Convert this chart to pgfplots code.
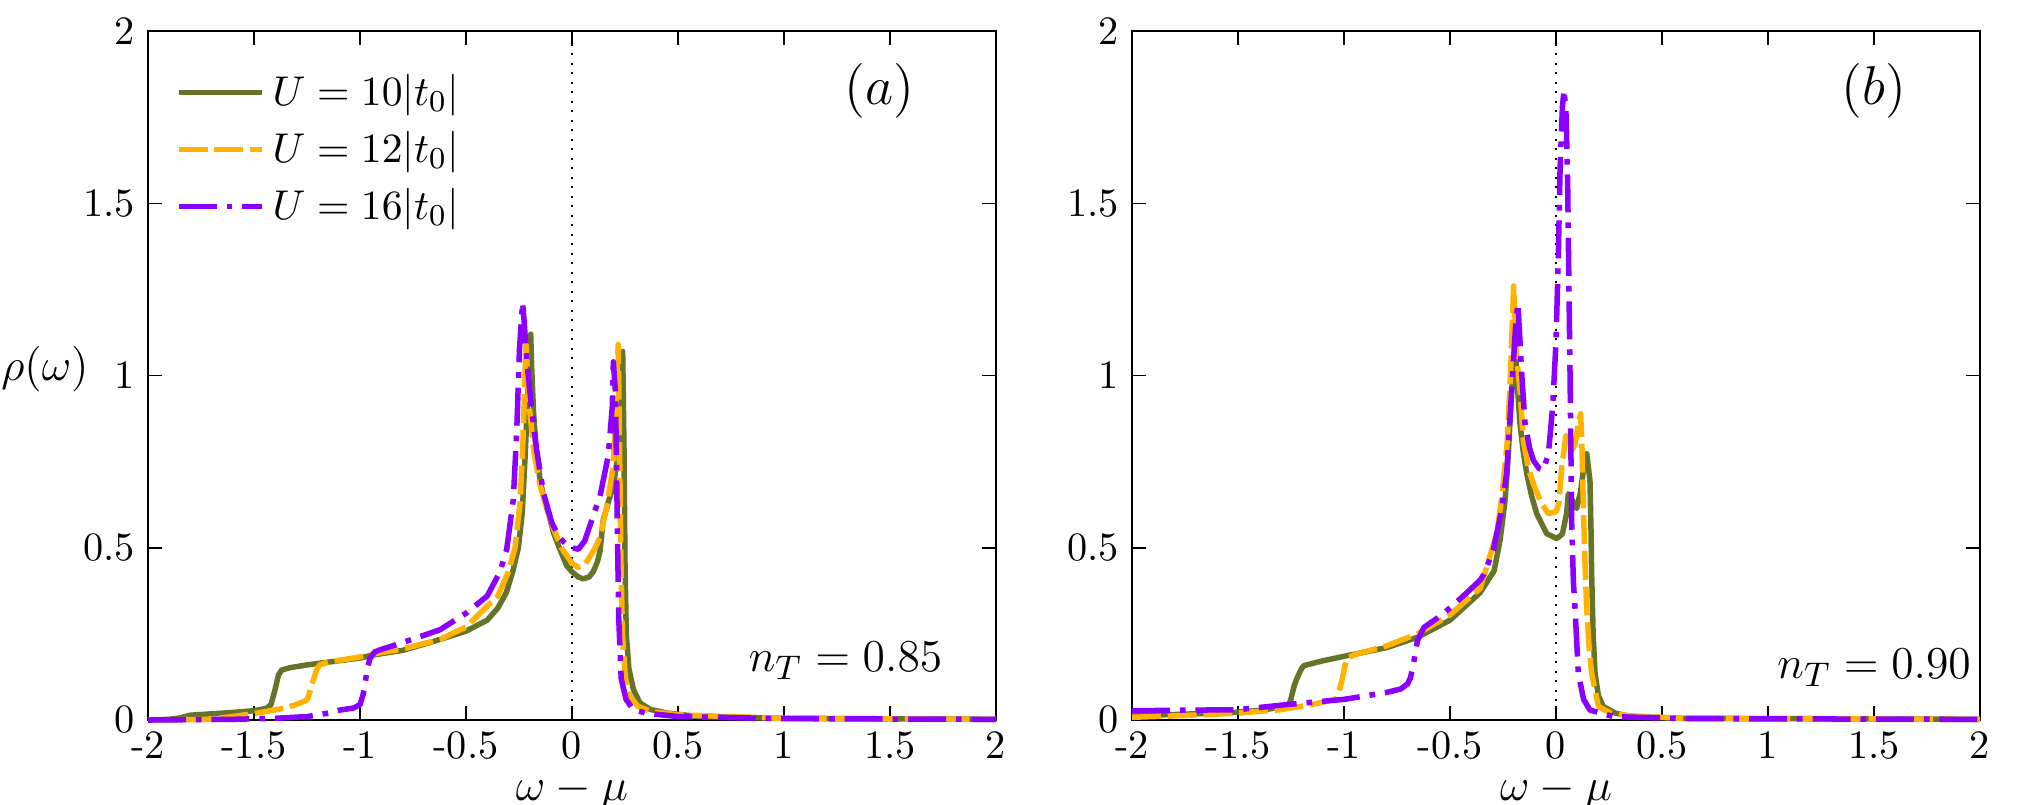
\documentclass[border=0pt]{standalone}
\usepackage{pgfplots}
\pgfplotsset{compat=1.18}
\definecolor{cgreen}{RGB}{102,116,42}
\definecolor{corange}{RGB}{255,178,0}
\definecolor{cpurple}{RGB}{140,0,255}
\pgfplotsset{
  panel/.style={
    scale only axis, width=223.16pt, height=181.3pt,
    xmin=-2, xmax=2, ymin=0, ymax=2,
    xtick={-2,-1.5,-1,-0.5,0,0.5,1,1.5,2},
    xticklabels={-2,-1.5,-1,-0.5,0,0.5,1,1.5,2},
    ytick={0,0.5,1,1.5,2},
    yticklabels={0,0.5,1,1.5,2},
    tick pos=both, tick align=inside,
    major tick length=3.7pt,
    every tick/.style={black, line width=0.4pt},
    axis line style={line width=0.6pt},
    tick label style={font=\fontsize{10.6}{12}\selectfont},
    xticklabel style={inner sep=0.5pt, yshift=-2.4pt},
    label style={font=\fontsize{13}{15}\selectfont},
    xlabel={$\omega-\mu$},
    xlabel style={at={(axis description cs:0.5,-0.104)}, anchor=center, inner sep=0pt},
    clip=false,
  },
  gline/.style={cgreen, line width=1.45pt, solid, line join=round},
  oline/.style={corange, line width=1.45pt, dash pattern=on 7.6pt off 1.8pt, line join=round},
  pline/.style={cpurple, line width=1.45pt, dash pattern=on 10pt off 2.6pt on 1.5pt off 2.6pt, line join=round},
}
\begin{document}
\begin{tikzpicture}
\begin{axis}[panel, at={(38.95pt,22.1pt)}, anchor=south west,
  ylabel={$\rho(\omega)$},
  ylabel style={at={(axis description cs:-0.1215,0.51)}, anchor=center, rotate=-90, inner sep=0pt},
  legend style={draw=none, fill=none, at={(axis description cs:0.032,0.95)}, anchor=north west,
    font=\fontsize{11}{13}\selectfont, row sep=1.3pt, inner sep=0pt,
    nodes={inner sep=2pt}},
  legend cell align=left,
  legend image code/.code={\draw[#1] (0pt,0pt) -- (22pt,0pt);},
]
\addplot[black, dotted, line width=0.5pt, forget plot] coordinates {(0,0) (0,2)};
\addplot[gline] coordinates {
(-2.0,0.0) (-1.9,0.002) (-1.85,0.006) (-1.8,0.014) (-1.7,0.018) (-1.6,0.022) (-1.5,0.027)
(-1.44,0.034) (-1.42,0.045) (-1.40,0.09) (-1.385,0.13) (-1.37,0.145) (-1.33,0.152) (-1.25,0.16)
(-1.175,0.166) (-1.0,0.18) (-0.937,0.189) (-0.8,0.202) (-0.654,0.228) (-0.5,0.258) (-0.4,0.29)
(-0.35,0.325) (-0.31,0.37) (-0.28,0.43) (-0.253,0.50) (-0.235,0.60) (-0.22,0.78) (-0.21,0.93) (-0.20,1.06)
(-0.195,1.12) (-0.19,1.02) (-0.182,0.90) (-0.17,0.787) (-0.151,0.70) (-0.135,0.65) (-0.104,0.585)
(-0.088,0.545) (-0.06,0.50) (-0.025,0.448) (0.0,0.43) (0.03,0.415) (0.053,0.41) (0.08,0.415)
(0.10,0.43) (0.12,0.46) (0.132,0.49) (0.147,0.58) (0.17,0.63) (0.195,0.68) (0.215,0.76)
(0.226,0.84) (0.235,0.98) (0.239,1.07) (0.245,0.8) (0.25,0.45) (0.256,0.25) (0.268,0.15)
(0.289,0.09) (0.32,0.05) (0.368,0.031) (0.45,0.02) (0.6,0.01) (1.0,0.005) (2.0,0.002)};
\addlegendentry{$U=10|t_0|$}
\addplot[oline] coordinates {
(-2.0,0.0) (-1.8,0.001) (-1.72,0.002) (-1.6,0.01) (-1.487,0.02) (-1.36,0.034) (-1.3,0.045)
(-1.25,0.058) (-1.235,0.085) (-1.22,0.116) (-1.205,0.145) (-1.19,0.16) (-1.15,0.168) (-1.0,0.183)
(-0.937,0.192) (-0.8,0.206) (-0.623,0.234) (-0.5,0.27) (-0.434,0.31) (-0.35,0.36) (-0.30,0.43)
(-0.269,0.50) (-0.245,0.63) (-0.232,0.80) (-0.222,1.0) (-0.217,1.09) (-0.21,1.0) (-0.2,0.9)
(-0.18,0.78) (-0.15,0.68) (-0.12,0.615) (-0.09,0.56) (-0.05,0.50) (0.0,0.455) (0.03,0.443)
(0.06,0.45) (0.09,0.48) (0.11,0.5) (0.132,0.53) (0.164,0.62) (0.195,0.74) (0.207,0.93)
(0.218,1.09) (0.224,0.8) (0.231,0.45) (0.238,0.25) (0.252,0.12) (0.272,0.07) (0.31,0.04)
(0.37,0.025) (0.5,0.015) (1.0,0.005) (2.0,0.002)};
\addlegendentry{$U=12|t_0|$}
\addplot[pline] coordinates {
(-2.0,0.0) (-1.6,0.002) (-1.4,0.005) (-1.25,0.01) (-1.15,0.02) (-1.094,0.029) (-1.03,0.035)
(-1.0,0.045) (-0.985,0.075) (-0.976,0.107) (-0.965,0.15) (-0.953,0.179) (-0.93,0.198) (-0.9,0.205)
(-0.858,0.213) (-0.75,0.235) (-0.623,0.262) (-0.5,0.31) (-0.4,0.36) (-0.34,0.43) (-0.308,0.496)
(-0.277,0.64) (-0.261,0.835) (-0.248,1.075) (-0.233,1.213) (-0.225,1.15) (-0.214,1.046) (-0.19,0.90)
(-0.167,0.785) (-0.135,0.66) (-0.096,0.574) (-0.06,0.53) (-0.02,0.505) (0.0,0.50) (0.03,0.496)
(0.06,0.52) (0.10,0.593) (0.132,0.65) (0.171,0.767) (0.19,0.91) (0.195,1.04) (0.205,0.95)
(0.213,0.6) (0.22,0.3) (0.232,0.12) (0.255,0.06) (0.289,0.03) (0.35,0.02) (0.5,0.01) (1.0,0.004)
(2.0,0.002)};
\addlegendentry{$U=16|t_0|$}
\node[font=\fontsize{14.4}{17}\selectfont] at (axis cs:1.45,1.826) {$(a)$};
\node[font=\fontsize{13}{15}\selectfont, anchor=base] at (axis cs:1.29,0.14) {$n_T=0.85$};
\end{axis}

\begin{axis}[panel, at={(297.9pt,22.1pt)}, anchor=south west]
\addplot[black, dotted, line width=0.5pt, forget plot] coordinates {(0,0) (0,2)};
\addplot[gline] coordinates {
(-2.0,0.013) (-1.8,0.016) (-1.519,0.022) (-1.4,0.028) (-1.31,0.036) (-1.26,0.045) (-1.251,0.06)
(-1.235,0.10) (-1.22,0.124) (-1.2,0.15) (-1.189,0.158) (-1.1,0.172) (-0.984,0.187) (-0.8,0.21)
(-0.654,0.24) (-0.5,0.29) (-0.418,0.336) (-0.358,0.37) (-0.292,0.433) (-0.264,0.522) (-0.24,0.64)
(-0.225,0.773) (-0.21,0.95) (-0.193,1.1) (-0.18,0.95) (-0.17,0.86) (-0.155,0.78) (-0.138,0.715)
(-0.115,0.65) (-0.091,0.599) (-0.044,0.541) (0.003,0.527) (0.03,0.54) (0.05,0.60) (0.058,0.657)
(0.075,0.64) (0.097,0.614) (0.115,0.66) (0.13,0.73) (0.145,0.773) (0.155,0.72) (0.16,0.696)
(0.165,0.55) (0.168,0.425) (0.175,0.25) (0.184,0.135) (0.2,0.07) (0.223,0.039) (0.28,0.02)
(0.35,0.01) (0.6,0.005) (2.0,0.002)};
\addplot[oline] coordinates {
(-2.0,0.008) (-1.8,0.012) (-1.5,0.02) (-1.3,0.03) (-1.15,0.045) (-1.04,0.06) (-1.025,0.08)
(-1.008,0.12) (-0.995,0.16) (-0.984,0.18) (-0.95,0.19) (-0.92,0.195) (-0.8,0.215) (-0.654,0.25)
(-0.5,0.305) (-0.418,0.35) (-0.358,0.382) (-0.28,0.541) (-0.255,0.65) (-0.23,0.81) (-0.215,1.0)
(-0.2,1.26) (-0.185,1.05) (-0.17,0.957) (-0.154,0.81) (-0.13,0.73) (-0.107,0.686) (-0.07,0.63)
(-0.036,0.599) (0.0,0.605) (0.013,0.628) (0.027,0.734) (0.047,0.826) (0.06,0.81) (0.074,0.783)
(0.09,0.8) (0.105,0.86) (0.116,0.889) (0.122,0.8) (0.129,0.618) (0.137,0.45) (0.145,0.32)
(0.155,0.22) (0.168,0.135) (0.2,0.039) (0.26,0.02) (0.35,0.012) (0.6,0.005) (2.0,0.002)};
\addplot[pline] coordinates {
(-2.0,0.027) (-1.5,0.03) (-1.251,0.046) (-1.0,0.06) (-0.89,0.071) (-0.8,0.08) (-0.733,0.09)
(-0.7,0.105) (-0.686,0.124) (-0.67,0.172) (-0.654,0.23) (-0.623,0.269) (-0.55,0.30) (-0.497,0.327)
(-0.42,0.37) (-0.358,0.406) (-0.34,0.423) (-0.296,0.493) (-0.26,0.6) (-0.233,0.715) (-0.21,0.95)
(-0.19,1.15) (-0.18,1.21) (-0.17,1.1) (-0.162,1.005) (-0.146,0.86) (-0.125,0.79) (-0.107,0.754)
(-0.08,0.73) (-0.06,0.725) (-0.036,0.773) (-0.016,0.908) (0.0,1.1) (0.011,1.35) (0.019,1.6)
(0.03,1.78) (0.038,1.83) (0.048,1.75) (0.055,1.55) (0.06,1.3) (0.066,1.005) (0.074,0.57)
(0.082,0.4) (0.09,0.32) (0.105,0.135) (0.13,0.06) (0.16,0.029) (0.27,0.01) (0.6,0.004) (2.0,0.002)};
\node[font=\fontsize{14.4}{17}\selectfont] at (axis cs:1.5,1.826) {$(b)$};
\node[font=\fontsize{13}{15}\selectfont, anchor=base] at (axis cs:1.5,0.121) {$n_T=0.90$};
\end{axis}
\pgfresetboundingbox
\useasboundingbox (0,0) rectangle (531.58pt,211.58pt);
\end{tikzpicture}
\end{document}
